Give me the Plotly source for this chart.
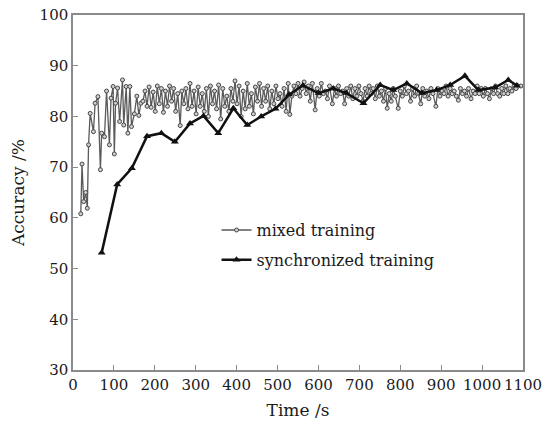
import plotly.graph_objects as go

# ---------------- data ----------------
mixed_time = [19, 22, 26, 31, 35, 38, 42, 50, 54, 61, 67, 70, 77, 82, 89, 93, 98, 101, 104, 109,
              114, 121, 124, 130, 134, 139, 143, 150, 156, 161, 166, 171, 176, 181, 186, 191, 196, 201,
              206, 211, 216, 221, 226, 231, 236, 241, 246, 251, 256, 262, 266, 271, 276, 281, 286,
              291, 296, 301, 306, 311, 316, 321, 326, 331, 336, 341, 346, 351, 356, 361, 366, 371,
              376, 381, 386, 391, 396, 401, 406, 411, 416, 421, 426, 431, 436, 441, 446, 451, 456,
              461, 466, 471, 476, 481, 486, 491, 496, 501, 506, 511, 516, 521, 526, 530, 535, 540,
              545, 550, 555, 560, 565, 570, 575, 580, 585, 592, 597, 602, 607, 612, 617, 622, 627,
              634, 639, 644, 649, 654, 659, 664, 669, 674, 679, 684, 689, 694, 699, 704, 709, 714,
              719, 724, 729, 734, 739, 744, 749, 754, 759, 764, 768, 773, 778, 783, 788, 795, 800,
              805, 810, 815, 820, 825, 830, 835, 840, 845, 850, 855, 860, 865, 870, 875, 880, 887,
              892, 897, 902, 907, 912, 917, 922, 927, 932, 937, 942, 947, 952, 957, 962, 967, 973,
              978, 983, 988, 993, 998, 1003, 1008, 1013, 1018, 1023, 1028, 1033, 1038, 1043, 1048,
              1053, 1058, 1063, 1068, 1073, 1078, 1083, 1088, 1095]
mixed_acc = [60.8, 70.6, 63.2, 65.0, 61.9, 74.4, 80.6, 77.0, 82.6, 83.9, 69.5, 76.7, 76.0, 85.0, 74.4,
             83.6, 85.9, 72.6, 82.6, 85.6, 79.0, 87.2, 78.3, 85.9, 76.7, 85.9, 78.0, 80.5, 84.0, 80.2,
             82.6, 83.0, 85.0, 82.0, 85.8, 81.8, 84.8, 81.0, 86.0, 82.5, 85.5, 80.8, 85.0, 82.0, 86.0,
             83.0, 85.5, 81.0, 84.5, 78.2, 85.0, 82.5, 85.5, 81.5, 86.5, 82.0, 85.0, 80.5, 85.8, 82.0,
             84.5, 81.0, 85.5, 80.0, 86.0, 82.5, 85.0, 81.5, 86.2, 79.5, 85.5, 82.0, 84.0, 81.0, 85.5,
             83.0, 87.0, 82.5, 86.0, 80.0, 85.0, 81.5, 86.5, 82.0, 84.5, 80.5, 85.8, 83.0, 86.5, 82.0,
             85.5, 83.0, 86.0, 81.5, 85.0, 82.5, 86.0, 83.5, 84.5, 82.0, 85.5, 81.0, 86.5, 80.4, 84.0,
             86.0, 84.5, 86.5, 84.0, 85.5, 86.8, 84.5, 86.0, 83.0, 86.5, 81.3, 85.5, 84.0, 86.5, 84.5,
             85.0, 83.5, 86.0, 82.5, 85.5, 84.0, 86.0, 84.5, 85.0, 82.5, 85.5, 84.0, 86.0, 83.5, 85.5,
             84.0, 86.0, 84.5, 83.0, 85.5, 84.0, 86.0, 84.5, 85.5, 83.5, 86.0, 84.0, 85.0, 83.0, 85.5,
             81.6, 84.5, 83.0, 85.5, 84.0, 81.6, 85.0, 84.0, 86.0, 84.5, 85.0, 83.0, 85.5, 84.0, 86.0,
             84.5, 82.5, 85.5, 84.0, 85.0, 83.5, 85.5, 84.5, 82.0, 85.5, 84.0, 85.0, 84.5, 86.0, 84.0,
             85.5, 84.5, 85.0, 84.0, 83.2, 85.5, 84.5, 85.0, 84.0, 85.5, 83.5, 85.0, 84.5, 86.0, 84.5,
             85.5, 84.0, 85.5, 84.5, 83.5, 85.5, 84.5, 86.0, 84.5, 84.0, 85.5, 84.5, 86.0, 84.5, 85.5,
             85.0, 86.0, 85.5, 86.0, 86.0]

sync_time = [70, 108, 144, 181, 216, 249, 286, 319, 355, 392, 426, 460, 495, 528, 562, 600, 636, 668,
             710, 751, 783, 816, 853, 889, 922, 958, 991, 1032, 1064, 1085]
sync_acc = [53.1, 66.6, 69.8, 76.1, 76.7, 75.0, 78.6, 80.1, 76.7, 81.6, 78.3, 80.0, 81.5, 84.3, 86.1,
            84.6, 85.5, 84.6, 82.6, 86.2, 85.2, 86.5, 84.6, 85.2, 86.2, 88.0, 85.2, 85.7, 87.2, 86.1]

x_ticks = [0, 100, 200, 300, 400, 500, 600, 700, 800, 900, 1000, 1100]
y_ticks = [30, 40, 50, 60, 70, 80, 90, 100]

FONT = "DejaVu Serif"
AXIS = "#8a8a8a"
TXT = "#1a1a1a"

fig = go.Figure()
fig.add_trace(go.Scatter(
    x=mixed_time, y=mixed_acc, mode="lines+markers", name="mixed training",
    line=dict(color="#5a5a5a", width=1.3),
    marker=dict(symbol="circle", size=4, color="#cfcfcf", line=dict(color="#454545", width=1)),
    legendgroup="a",
))
fig.add_trace(go.Scatter(
    x=sync_time, y=sync_acc, mode="lines+markers", name="synchronized training",
    line=dict(color="#111111", width=2.5),
    marker=dict(symbol="triangle-up", size=7, color="#111111"),
    legendgroup="b",
))

axis_common = dict(
    showgrid=False, zeroline=False, showline=True, linecolor=AXIS, linewidth=1.5,
    mirror=True, ticks="inside", ticklen=5, tickcolor=AXIS, tickwidth=1,
    tickfont=dict(family=FONT, size=15, color=TXT), automargin=False,
    ticklabeloverflow="allow",
)

fig.update_layout(
    width=553, height=421,
    margin=dict(l=65, r=38, t=7, b=59),
    paper_bgcolor="white", plot_bgcolor="white",
    font=dict(family=FONT, color=TXT),
    showlegend=True,
    legend=dict(x=0.319, y=0.442, xanchor="left", yanchor="top",
                bgcolor="rgba(0,0,0,0)", font=dict(family=FONT, size=16, color=TXT),
                tracegroupgap=6, itemwidth=30),
    xaxis=dict(range=[0, 1100], tickvals=x_ticks, ticktext=[str(v) for v in x_ticks],
               title=dict(text="Time /s", font=dict(family=FONT, size=17, color=TXT), standoff=11),
               **axis_common),
    yaxis=dict(range=[30, 100], tickvals=y_ticks, ticktext=[str(v) for v in y_ticks],
               title=dict(text="Accuracy /%", font=dict(family=FONT, size=17, color=TXT), standoff=20),
               **axis_common),
)

fig.write_html("out.html")
